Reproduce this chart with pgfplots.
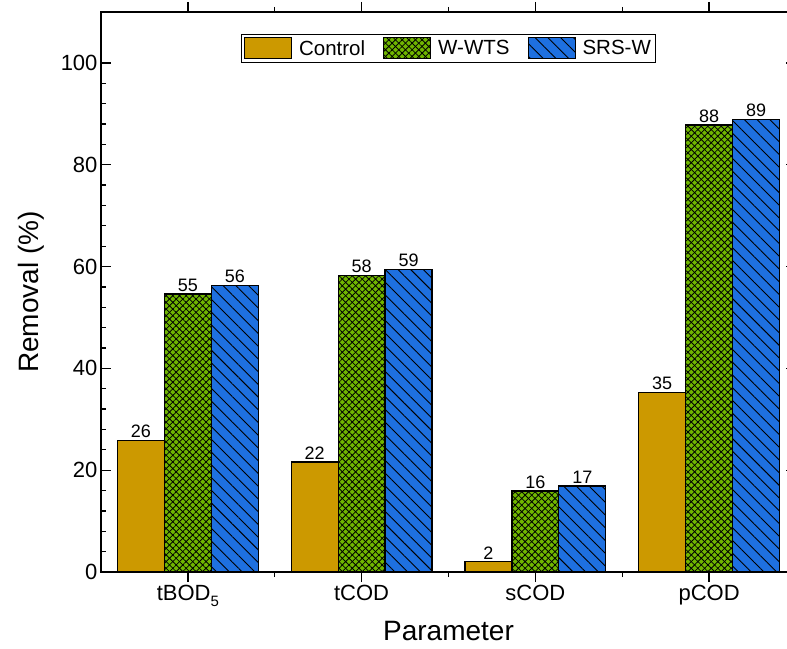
\documentclass[border=0pt]{standalone}
\usepackage{fontspec}
\setmainfont{Liberation Sans}
\usepackage{pgfplots}
\pgfplotsset{compat=1.18}
\usetikzlibrary{patterns.meta}
\definecolor{cctrl}{RGB}{204,153,0}
\definecolor{cwwts}{RGB}{112,182,0}
\definecolor{csrs}{RGB}{30,112,224}
\begin{document}
\begin{tikzpicture}
\begin{axis}[
  name=ax,
  scale only axis, width=695pt, height=560pt,
  xmin=-0.5, xmax=3.5, ymin=0, ymax=110,
  ybar=0pt, bar width=0.27,
  xtick={0,1,2,3},
  xticklabels={tBOD\raisebox{-0.45ex}{\fontsize{15}{15}\selectfont 5},tCOD,sCOD,pCOD},
  minor xtick={0.5,1.5,2.5},
  ytick={0,20,...,100}, minor y tick num=4,
  major tick length=10pt, minor tick length=5pt,
  tick style={line width=1.3pt, black},
  axis line style={line width=1.5pt},
  ticklabel style={font=\fontsize{22}{22}\selectfont},
  /pgf/number format/assume math mode=true,
  xlabel={Parameter}, ylabel={Removal (\%)},
  label style={font=\fontsize{28}{28}\selectfont},
  xlabel style={yshift=-10pt, inner sep=1pt},
  ylabel shift=10pt,
  nodes near coords, point meta=explicit symbolic,
  nodes near coords style={font=\fontsize{18}{18}\selectfont, anchor=south, inner sep=2pt, text=black},
  legend style={at={(0.5,0.961)}, anchor=north, legend columns=3,
    font=\fontsize{20.5}{20.5}\selectfont, draw=black, line width=1pt,
    inner xsep=3pt, inner ysep=3pt,
    nodes={inner sep=2pt},
    /tikz/every odd column/.append style={column sep=5pt},
    /tikz/every even column/.append style={column sep=16pt}},
  legend image code/.code={\draw[#1,line width=1pt] (0pt,-10.5pt) rectangle (47pt,10.5pt);},
]
\addplot[bar shift=0pt, fill=cctrl, draw=black, line width=1.3pt]
  coordinates {(-0.27,25.9) [26] (0.73,21.6) [22] (1.73,2.0) [2] (2.73,35.2) [35]};
\addlegendentry{Control}
\addplot[bar shift=0pt, fill=cwwts, draw=black, line width=1.3pt,
  postaction={pattern={Lines[angle=45,distance=4.7pt,line width=0.8pt]}, pattern color=black},
  postaction={pattern={Lines[angle=-45,distance=4.7pt,line width=0.8pt]}, pattern color=black}]
  coordinates {(0,54.6) [55] (1,58.2) [58] (2,15.9) [16] (3,87.8) [88]};
\addlegendentry{W-WTS}
\addplot[bar shift=0pt, fill=csrs, draw=black, line width=1.3pt,
  postaction={pattern={Lines[angle=-45,distance=9pt,line width=0.9pt]}, pattern color=black}]
  coordinates {(0.27,56.3) [56] (1.27,59.4) [59] (2.27,16.9) [17] (3.27,88.9) [89]};
\addlegendentry{SRS-W}
\end{axis}
\pgfresetboundingbox
\path[use as bounding box] ([xshift=-101pt,yshift=-76pt]ax.south west) rectangle ([xshift=-9pt,yshift=12pt]ax.north east);
\end{tikzpicture}
\end{document}
